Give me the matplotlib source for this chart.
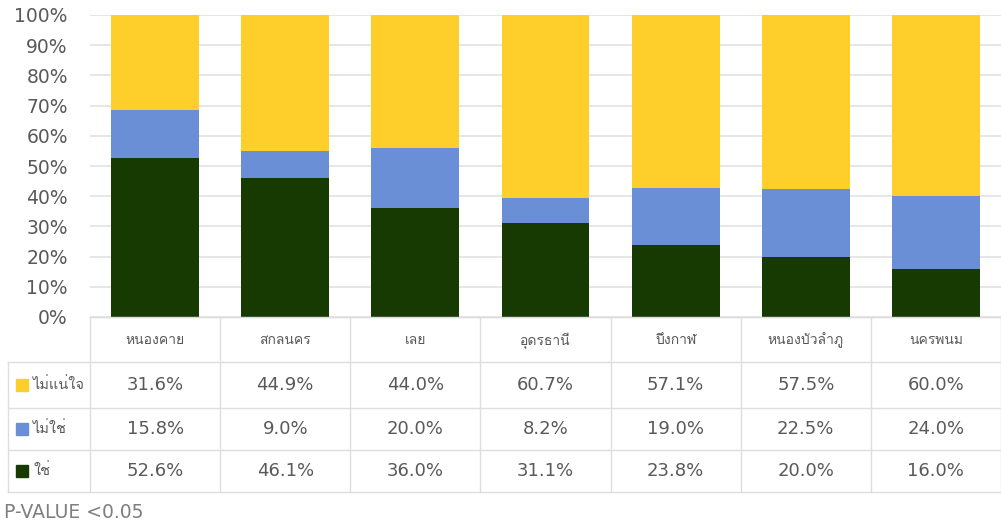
import matplotlib
matplotlib.use("Agg")
import matplotlib.pyplot as plt
from matplotlib import font_manager
import numpy as np

# ---------------- data ----------------
categories = ["หนองคาย", "สกลนคร", "เลย", "อุดรธานี", "บึงกาฬ", "หนองบัวลำภู", "นครพนม"]
series_names = ["ไม่แน่ใจ", "ไม่ใช่", "ใช่"]          # table order (top to bottom)
unsure = [31.6, 44.9, 44.0, 60.7, 57.1, 57.5, 60.0]
no_vals = [15.8, 9.0, 20.0, 8.2, 19.0, 22.5, 24.0]
yes_vals = [52.6, 46.1, 36.0, 31.1, 23.8, 20.0, 16.0]
yticks = [0, 10, 20, 30, 40, 50, 60, 70, 80, 90, 100]
footnote = "P-VALUE <0.05"

c_yes = "#173a03"
c_no = "#6a8fd6"
c_unsure = "#fecf2b"
txt = "#595959"
grid_c = "#e2e2e2"

# ---------------- font with Thai glyphs ----------------
thai_family = None
try:
    from fontTools.ttLib import TTFont
    for fe in font_manager.fontManager.ttflist:
        try:
            f = TTFont(fe.fname, fontNumber=0, lazy=True)
            cmap = f.getBestCmap()
            if cmap and 0x0E2B in cmap and 0x0E44 in cmap:
                thai_family = fe.name
                break
        except Exception:
            continue
except Exception:
    pass
families = ([thai_family] if thai_family else []) + ["DejaVu Sans"]
plt.rcParams["font.family"] = families

W, H = 1001, 526
fig = plt.figure(figsize=(W / 100, H / 100), dpi=100)

# ---------------- chart axes ----------------
x0, x1 = 90, 1001
ytop, ybot = 15, 317
ax = fig.add_axes([x0 / W, 1 - ybot / H, (x1 - x0) / W, (ybot - ytop) / H])
x = np.arange(len(categories))
bw = 0.675
ax.bar(x, yes_vals, bw, color=c_yes, zorder=3)
ax.bar(x, no_vals, bw, bottom=yes_vals, color=c_no, zorder=3)
bottom2 = np.array(yes_vals) + np.array(no_vals)
ax.bar(x, np.array(unsure), bw, bottom=bottom2, color=c_unsure, zorder=3)
ax.set_xlim(-0.5, len(categories) - 0.5)
ax.set_ylim(0, 100)
ax.set_yticks(yticks)
ax.set_yticklabels([f"{t}%" for t in yticks], fontsize=13.5, color=txt, family="DejaVu Sans")
ax.tick_params(axis="y", length=0, pad=16)
ax.set_xticks([])
ax.yaxis.grid(True, color=grid_c, linewidth=1.2, zorder=0)
for s in ["top", "right", "left"]:
    ax.spines[s].set_visible(False)
ax.spines["bottom"].set_color(grid_c)
ax.spines["bottom"].set_linewidth(1)

# ---------------- data table ----------------
tab = fig.add_axes([0, 0, 1, 1])
tab.set_xlim(0, W)
tab.set_ylim(H, 0)
tab.axis("off")
col_w = (x1 - x0) / len(categories)
row_y = [317, 362, 408, 450, 492]
lc = "#dedede"
# horizontal lines
tab.plot([x0, x1], [row_y[0], row_y[0]], color=lc, lw=1)
for yy in row_y[1:]:
    tab.plot([8, x1], [yy, yy], color=lc, lw=1)
# vertical lines
tab.plot([8, 8], [row_y[1], row_y[-1]], color=lc, lw=1)
for i in range(len(categories) + 1):
    xx = x0 + i * col_w
    tab.plot([xx, xx], [row_y[0], row_y[-1]], color=lc, lw=1)

# header
for i, c in enumerate(categories):
    tab.text(x0 + (i + 0.5) * col_w, (row_y[0] + row_y[1]) / 2 + 1, c,
             ha="center", va="center", fontsize=10, color=txt)

rows = [unsure, no_vals, yes_vals]
colors = [c_unsure, c_no, c_yes]
for r, (name, vals, col) in enumerate(zip(series_names, rows, colors)):
    yc = (row_y[r + 1] + row_y[r + 2]) / 2
    tab.add_patch(plt.Rectangle((16, yc - 6), 12, 12, color=col))
    tab.text(33, yc, name, ha="left", va="center", fontsize=10.5, color=txt)
    for i, v in enumerate(vals):
        tab.text(x0 + (i + 0.5) * col_w, yc, f"{v:.1f}%", ha="center", va="center",
                 fontsize=13, color=txt, family="DejaVu Sans")

tab.text(4, 512, footnote, ha="left", va="center", fontsize=13.5, color="#7f7f7f",
         family="DejaVu Sans")

fig.savefig("out.png", dpi=100)
